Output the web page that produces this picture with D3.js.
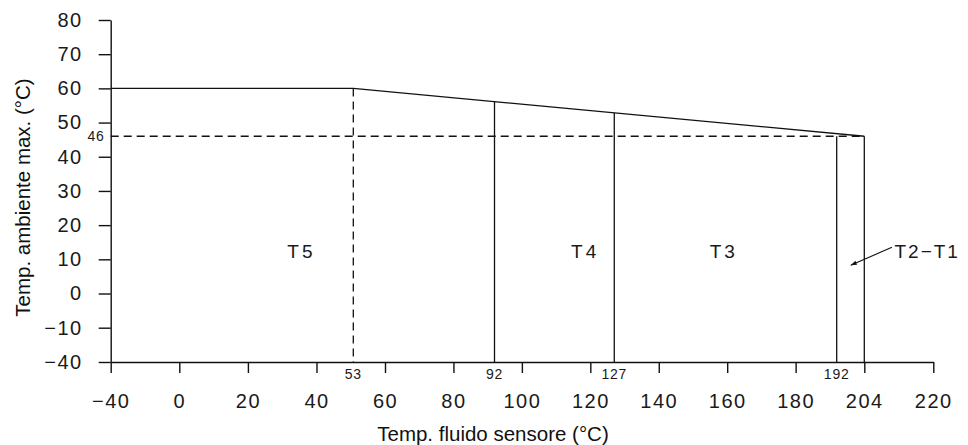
<!DOCTYPE html>
<html>
<head>
<meta charset="utf-8">
<script src="https://cdn.jsdelivr.net/npm/d3@7"></script>
<style>
  body{margin:0;background:#fff;}
  svg{display:block;}
  .cad{font-family:"Liberation Sans",Arial,sans-serif;fill:#1a1a1a;}
  .title{font-family:"Liberation Sans",Arial,sans-serif;font-size:20.5px;fill:#111;}
</style>
</head>
<body>
<svg id="chart" width="968" height="445"></svg>
<script>
// tick values (axes are not linear at the ends)
var xTicks=[-40,0,20,40,60,80,100,120,140,160,180,204,220];
var yTicks=[80,70,60,50,40,30,20,10,0,-10,-40];

// max ambient temperature envelope
var envelope=[[-40,60],[53,60],[204,46]];
// class boundaries: fluid temp and height of the vertical line
var boundaries=[{x:92,top:56.1},{x:127,top:52.8},{x:192,top:46},{x:204,top:46}];
var boundaryLabels=[53,92,127,192];
var t5Limit={x:53,top:60};
var ambientLimit=46;
// class zones: label, x value of centre, y value of baseline
var zones=[{name:"T5",x:35.6,y:10.5},{name:"T4",x:118.5,y:10.5},{name:"T3",x:159,y:10.5}];
var t2t1={name:"T2\u2212T1",x:211,y:10.5,from:[210.4,13.5],to:[198.1,8.3]};

var svg=d3.select("#chart");

// piecewise scales, the drawing squeezes -40 and 204/220 into one step each
var x=d3.scaleLinear()
  .domain([-40,0,40,53,60,192,204,220])
  .range([110.7,179.3,316.5,353.3,385,836.7,864.3,933.3]);
var y=d3.scaleLinear()
  .domain([-40,-10,80])
  .range([362,327.7,20]);

function fmt(d){return d<0?"\u2212"+Math.abs(d):String(d);}

var defs=svg.append("defs");
defs.append("marker").attr("id","arr")
  .attr("viewBox","0 0 10 10").attr("refX",10).attr("refY",5)
  .attr("markerWidth",11).attr("markerHeight",6).attr("orient","auto")
  .attr("markerUnits","userSpaceOnUse")
  .append("path").attr("d","M0,1.5L10,5L0,8.5Z").attr("fill","#111");

// axes
var yAxis=svg.append("g").attr("transform","translate("+x(-40)+",0)")
  .call(d3.axisLeft(y).tickValues(yTicks).tickSize(12).tickSizeOuter(0).tickPadding(16).tickFormat(fmt));
var xAxis=svg.append("g").attr("transform","translate(0,"+y(-40)+")")
  .call(d3.axisBottom(x).tickValues(xTicks).tickSize(11).tickSizeOuter(0).tickPadding(21).tickFormat(fmt));

[yAxis,xAxis].forEach(function(g){
  g.selectAll("path,line").attr("stroke","#111").attr("stroke-width",1.4);
  g.selectAll("text").attr("class","cad").attr("font-size",20).attr("letter-spacing",1.5)
    .attr("fill","#1a1a1a").style("font-family","\"Liberation Sans\",Arial,sans-serif");
});

// envelope line
svg.append("path").datum(envelope)
  .attr("d",d3.line().x(function(d){return x(d[0]);}).y(function(d){return y(d[1]);}))
  .attr("fill","none").attr("stroke","#111").attr("stroke-width",1.3);

// solid class boundaries
svg.selectAll(".bnd").data(boundaries).enter().append("line")
  .attr("x1",function(d){return x(d.x);}).attr("x2",function(d){return x(d.x);})
  .attr("y1",function(d){return y(d.top);}).attr("y2",y(-40))
  .attr("stroke","#111").attr("stroke-width",1.3);

// dashed limits
svg.append("line")
  .attr("x1",x(t5Limit.x)).attr("x2",x(t5Limit.x))
  .attr("y1",y(t5Limit.top)).attr("y2",y(-40))
  .attr("stroke","#111").attr("stroke-width",1.3).attr("stroke-dasharray","8,5");
svg.append("line")
  .attr("x1",x(-40)).attr("x2",x(204))
  .attr("y1",y(ambientLimit)).attr("y2",y(ambientLimit))
  .attr("stroke","#111").attr("stroke-width",1.3).attr("stroke-dasharray","8,5");

// small value labels
svg.selectAll(".blab").data(boundaryLabels).enter().append("text")
  .attr("class","cad").attr("font-size",14).attr("letter-spacing",0.8)
  .attr("text-anchor","middle")
  .attr("x",function(d){return x(d);}).attr("y",y(-40)+17)
  .text(function(d){return d;});
svg.append("text").attr("class","cad").attr("font-size",14).attr("letter-spacing",0.8)
  .attr("text-anchor","end")
  .attr("x",x(-40)-6).attr("y",y(ambientLimit)+5)
  .text(ambientLimit);

// zone labels
svg.selectAll(".zone").data(zones).enter().append("text")
  .attr("class","cad").attr("font-size",19).attr("letter-spacing",3)
  .attr("text-anchor","middle")
  .attr("x",function(d){return x(d.x);}).attr("y",function(d){return y(d.y);})
  .text(function(d){return d.name;});

svg.append("line")
  .attr("x1",x(t2t1.from[0])).attr("y1",y(t2t1.from[1]))
  .attr("x2",x(t2t1.to[0])).attr("y2",y(t2t1.to[1]))
  .attr("stroke","#111").attr("stroke-width",1.1).attr("marker-end","url(#arr)");
svg.append("text").attr("class","cad").attr("font-size",19).attr("letter-spacing",2)
  .attr("x",x(t2t1.x)).attr("y",y(t2t1.y))
  .text(t2t1.name);

// axis titles
svg.append("text").attr("class","title").attr("text-anchor","middle")
  .attr("x",493).attr("y",440.5)
  .text("Temp. fluido sensore (\u00b0C)");
svg.append("text").attr("class","title").attr("text-anchor","middle")
  .attr("transform","translate(30,197.5) rotate(-90)")
  .text("Temp. ambiente max. (\u00b0C)");
</script>
</body>
</html>
